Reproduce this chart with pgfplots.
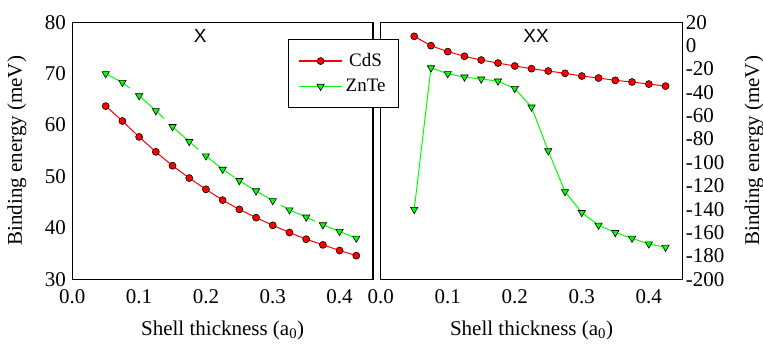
\documentclass[border=0pt]{standalone}
\usepackage{fontspec}
\setmainfont{Liberation Serif}
\usepackage{pgfplots}
\pgfplotsset{compat=1.18}
\definecolor{myred}{RGB}{255,0,0}
\definecolor{mygreen}{RGB}{0,255,0}
\newcommand{\bigf}{\rmfamily\fontsize{21bp}{25bp}\selectfont}
\pgfplotsset{
  common/.style={
    scale only axis, width=300.7bp, height=257bp,
    xmin=0, xmax=0.45,
    xtick={0,0.1,0.2,0.3,0.4},
    major tick length=0pt,
    axis line style={line width=1.1bp},
    /pgf/number format/assume math mode=true,
    xticklabel style={/pgf/number format/fixed,/pgf/number format/precision=1,/pgf/number format/fixed zerofill, yshift=-7bp},
    tick label style={font=\bigf},
    label style={font=\bigf},
    xlabel={Shell thickness (a\textsubscript{0})},
    ylabel={Binding energy (meV)},
    xlabel style={at={(axis description cs:0.5,-0.2)},anchor=center},
    clip=false,
  },
  cds/.style={color=myred, line width=1bp, mark=*, mark size=3.5bp,
    mark options={fill=myred, draw=black, line width=0.6bp, solid}},
  znte/.style={color=mygreen, line width=1bp, mark=triangle*, mark size=4.2bp,
    mark options={fill=mygreen, draw=black, line width=0.6bp, rotate=180, solid}},
}
\begin{document}
\begin{tikzpicture}[x=1bp,y=1bp]
\useasboundingbox (0,0) rectangle (763,343);
\begin{axis}[common, at={(72.3bp,63.7bp)}, anchor=south west,
  ymin=30, ymax=80, ytick={30,40,...,80},
  yticklabel style={xshift=-3bp},
  ylabel style={at={(axis description cs:-0.184,0.5)},anchor=center},
]
\addplot[cds] coordinates {
(0.05,63.7)(0.075,60.8)(0.1,57.7)(0.125,54.8)(0.15,52.1)(0.175,49.7)(0.2,47.5)(0.225,45.4)
(0.25,43.6)(0.275,42.0)(0.3,40.5)(0.325,39.1)(0.35,37.8)(0.375,36.7)(0.4,35.6)(0.425,34.6)};
\addplot[znte, dash pattern=on 38bp off 8bp, dash phase=10bp] coordinates {
(0.05,70.0)(0.075,68.3)(0.1,65.7)(0.125,62.8)(0.15,59.7)(0.175,56.8)(0.2,54.0)(0.225,51.4)
(0.25,49.2)(0.275,47.2)(0.3,45.3)(0.325,43.5)(0.35,42.1)(0.375,40.6)(0.4,39.3)(0.425,38.0)};
\node[font={\fontspec{Liberation Sans}\fontsize{19bp}{22bp}\selectfont}] at (axis description cs:0.425,0.945) {X};
\end{axis}
\begin{axis}[common, at={(380.7bp,63.7bp)}, anchor=south west, width=301.6bp,
  ymin=-200, ymax=20, ytick={-200,-180,...,20},
  yticklabel pos=right,
  ylabel style={at={(axis description cs:1.238,0.5)},anchor=center},
  legend style={at={(axis description cs:-0.307,0.934)}, anchor=north west,
    draw=black, line width=0.9bp, fill=white, font=\rmfamily\fontsize{19bp}{22bp}\selectfont,
    inner xsep=10bp, inner ysep=11bp, row sep=5bp,
    nodes={inner sep=3bp}},
  legend image code/.code={\draw[line width=1.1bp, mark repeat=2,mark phase=2] plot coordinates {(0bp,0bp)(21.5bp,0bp)(43bp,0bp)};},
]
\addplot[cds] coordinates {
(0.05,8.0)(0.075,0.0)(0.1,-5.1)(0.125,-9.1)(0.15,-12.3)(0.175,-14.9)(0.2,-17.4)(0.225,-19.7)
(0.25,-21.7)(0.275,-23.7)(0.3,-26.0)(0.325,-27.7)(0.35,-29.7)(0.375,-31.1)(0.4,-32.9)(0.425,-34.6)};
\addlegendentry{CdS}
\addplot[znte] coordinates {
(0.05,-140.2)(0.075,-19.0)(0.1,-24.0)(0.125,-26.9)(0.15,-28.6)(0.175,-30.3)(0.2,-36.6)(0.225,-52.6)
(0.25,-90.0)(0.275,-125.0)(0.3,-142.9)(0.325,-153.7)(0.35,-160.0)(0.375,-164.9)(0.4,-169.7)(0.425,-172.6)};
\addlegendentry{ZnTe}
\node[font={\fontspec{Liberation Sans}\fontsize{19bp}{22bp}\selectfont}] at (axis description cs:0.515,0.945) {XX};
\end{axis}
\end{tikzpicture}
\end{document}
